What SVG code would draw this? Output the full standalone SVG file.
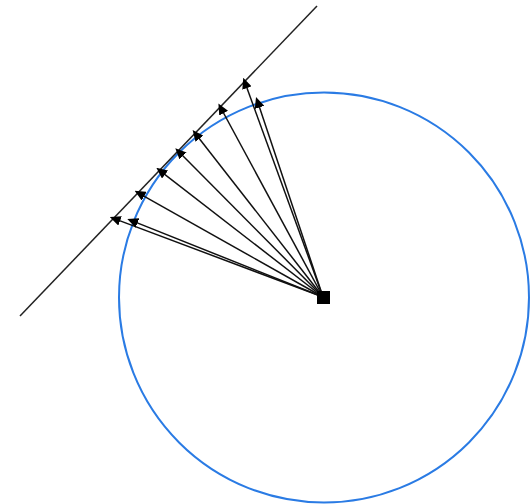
<svg xmlns="http://www.w3.org/2000/svg" width="530" height="504" viewBox="0 0 530 504">
<style>
.ray{stroke:#111;stroke-width:1.5;fill:none;marker-end:url(#ah)}
.wall{stroke:#222;stroke-width:1.5;fill:none}
.ring{stroke:#2a7be4;stroke-width:2;fill:none}
</style>
<defs>
<marker id="ah" markerUnits="userSpaceOnUse" markerWidth="11" markerHeight="10" refX="7" refY="5" orient="auto" viewBox="0 0 11 10">
<path d="M0,0 L11,5 L0,10 z" fill="#000"/>
</marker>
</defs>
<rect width="530" height="504" fill="#fff"/>
<g id="circle"><circle class="ring" cx="324" cy="297.5" r="205"/></g>
<g id="line"><line class="wall" x1="20" y1="316" x2="317" y2="6"/></g>
<g id="connectors">
<line class="ray" x1="323" y1="297" x2="113.5" y2="218.4"/>
<line class="ray" x1="323" y1="297" x2="131" y2="220.4"/>
<line class="ray" x1="323" y1="297" x2="138.1" y2="192.8"/>
<line class="ray" x1="323" y1="297" x2="159.5" y2="170.3"/>
<line class="ray" x1="323" y1="297" x2="178.1" y2="151"/>
<line class="ray" x1="323" y1="297" x2="195.1" y2="133.2"/>
<line class="ray" x1="323" y1="297" x2="220.3" y2="107"/>
<line class="ray" x1="323" y1="297" x2="244.6" y2="81.5"/>
<line class="ray" x1="323" y1="297" x2="257.3" y2="100.8"/>
</g>
<g id="center"><rect x="317" y="291" width="13" height="13" fill="#000"/></g>
</svg>
